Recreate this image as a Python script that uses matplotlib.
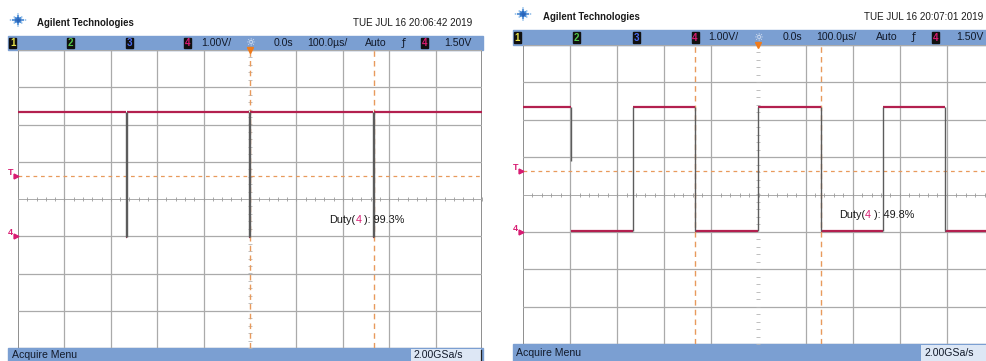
import matplotlib
matplotlib.use("Agg")
import matplotlib.pyplot as plt
from matplotlib.patches import Rectangle
import numpy as np

plt.rcParams['font.family'] = ['Liberation Sans Narrow', 'Liberation Sans', 'DejaVu Sans']

W, H = 987, 361

# scope settings shared by both captures
time_per_div = 100.0      # us
volts_per_div = 1.0
center_volts = 1.0
trigger_level = 1.63
header_items = ["1.00V/", "0.0s", "100.0\u00b5s/", "Auto", "1.50V"]

# capture 1: short low pulses
left_stamp = "TUE JUL 16 20:06:42 2019"
left_duty = "99.3%"
left_high = 3.33
left_low = -0.03
left_pulse_end = [-265, 0, 267]     # us, rising edge after each low pulse
left_pulse_width = 2.0
left_cursors = [0, 267]

# capture 2: square wave
right_stamp = "TUE JUL 16 20:07:01 2019"
right_duty = "49.8%"
right_high = 3.34
right_low = 0.02
right_falls = [-399, -134, 132, 397]
right_fall_bottom = [1.9, 0.02, 0.02, 0.02]
right_rises = [-267, 0, 265]
right_cursors = [-134, 132]

TRACE = '#b3204f'
EDGE = '#5c5c5c'
GRID = '#aaaaaa'
ORANGE = '#e89a5c'
MAGENTA = '#d81b72'
BAR = '#7b9fd2'

fig = plt.figure(figsize=(W / 100, H / 100), dpi=100)
bg = fig.add_axes([0, 0, 1, 1])
bg.set_xlim(0, W)
bg.set_ylim(H, 0)
bg.axis('off')


def draw_logo(cx, cy):
    for k in range(8):
        a = np.deg2rad(45 * k)
        arm = 1.0 if k % 2 == 0 else 0.7
        rs = np.array([2.5, 5.0, 7.5]) * arm
        bg.scatter(cx + rs * np.cos(a), cy + rs * np.sin(a) * 0.8,
                   s=[4, 2.5, 1.5], c=['#2f6fc4', '#4f8fd6', '#8cbbe8'],
                   linewidths=0, zorder=3)
    bg.scatter([cx], [cy], s=5, c='#2a64b8', linewidths=0, zorder=3)


def draw_frame(gx0, gx1, bar_top, bar_bot, grid_bot, stamp):
    dw = (gx1 - gx0) / 10.0
    X = lambda d: gx0 + d * dw
    x_end = min(gx1 + 1, W)
    # title row
    draw_logo(X(0), bar_top - 16)
    bg.text(X(0.42), bar_top - 13, "Agilent Technologies", fontsize=6.9,
            fontweight='bold', va='center', ha='left', color='#1a1a1a')
    bg.text(X(9.78), bar_top - 13, stamp, fontsize=7.1, va='center',
            ha='right', color='#1a1a1a')
    # status bar
    bg.add_patch(Rectangle((X(-0.22), bar_top), x_end - X(-0.22), bar_bot - bar_top,
                           color=BAR, zorder=1))
    ym = (bar_top + bar_bot) / 2
    for d, lab, col in [(-0.17, "1", '#e6e24a'), (1.08, "2", '#52c44a'),
                        (2.35, "3", '#4a6cf0'), (3.6, "4", MAGENTA), (8.7, "4", MAGENTA)]:
        bg.add_patch(Rectangle((X(d) - 1, bar_top + 2), 7, bar_bot - bar_top - 4,
                               color='#101010', zorder=2))
        bg.text(X(d) + 2.5, ym + 0.5, lab, fontsize=7, fontweight='bold', color=col,
                ha='center', va='center', zorder=3)
    txt = dict(fontsize=7.6, va='center', color='#121a2a', zorder=3)
    bg.text(X(3.94), ym, header_items[0], ha='left', **txt)
    bg.text(X(5.0), ym, "\u263c", ha='center', fontsize=8, va='center',
            color='#eef2fa', family='DejaVu Sans', zorder=3)
    bg.text(X(5.93), ym, header_items[1], ha='right', **txt)
    bg.text(X(7.09), ym, header_items[2], ha='right', **txt)
    bg.text(X(7.95), ym, header_items[3], ha='right', **txt)
    bg.text(X(8.3), ym, "\u0192", ha='center', fontsize=7.5, va='center',
            color='#121a2a', family='DejaVu Sans', zorder=3)
    bg.text(X(9.78), ym, header_items[4], ha='right', **txt)
    # bottom menu bar
    bg.add_patch(Rectangle((X(-0.22), grid_bot), x_end - X(-0.22), H - grid_bot,
                           color=BAR, zorder=1))
    yb = (grid_bot + H) / 2 + 0.5
    bg.text(X(-0.14), yb, "Acquire Menu", ha='left', **txt)
    bg.add_patch(Rectangle((X(8.46), grid_bot + 1), min(X(9.97), W) - X(8.46),
                           H - grid_bot - 1, facecolor='#dde7f5',
                           edgecolor='none', zorder=2))
    if X(9.97) < W:
        bg.plot([X(9.97), X(9.97)], [grid_bot + 2, H - 1], color='#202020', lw=0.9, zorder=3)
    bg.text(X(8.52), yb, "2.00GSa/s", ha='left', **txt)
    ax = fig.add_axes([gx0 / W, 1 - grid_bot / H, (gx1 - gx0) / W, (grid_bot - bar_bot) / H])
    return ax


def setup_grid(ax):
    ax.set_xlim(-5 * time_per_div, 5 * time_per_div)
    ax.set_ylim(center_volts - 4 * volts_per_div, center_volts + 4 * volts_per_div)
    ax.axis('off')
    for i in range(-5, 6):
        if i == 0:
            continue
        edge = abs(i) == 5
        ax.axvline(i * time_per_div, color='#707070' if edge else GRID,
                   lw=1.1 if edge else 0.9, zorder=1)
    for j in range(-4, 5):
        ax.axhline(center_volts + j * volts_per_div, color=GRID,
                   lw=0.7 if j == 0 else 0.9, zorder=1)
    # minor ticks along the centre axes
    tx = np.arange(-5, 5.01, 0.2) * time_per_div
    ax.plot(tx, np.full_like(tx, center_volts), ls='none', marker='|', ms=3,
            mew=0.6, color='#9a9a9a', zorder=1)
    ty = center_volts + np.arange(-4, 4.01, 0.2) * volts_per_div
    ax.plot(np.zeros_like(ty), ty, ls='none', marker='_', ms=2.2, mew=0.6,
            color='#b4b4b4', zorder=1)
    # trigger level, trigger position, ground reference
    ax.axhline(trigger_level, color=ORANGE, lw=0.9, ls=(0, (3, 3)), zorder=2)
    ax.plot([0], [1.0], transform=ax.get_xaxis_transform(), marker='v', ms=5,
            color='#f07c1c', clip_on=False, zorder=5)
    yt = ax.get_yaxis_transform()
    for level, lab in [(trigger_level, "T"), (0.0, "4")]:
        ax.plot([-0.004], [level], transform=yt, marker='>', ms=3.5, color=MAGENTA,
                clip_on=False, zorder=5)
        ax.annotate(lab, (0, level), xycoords=yt, xytext=(-5.5, 2.5),
                    textcoords='offset points', fontsize=6.5, fontweight='bold',
                    color=MAGENTA, ha='center', va='center', annotation_clip=False)


def draw_trace(ax, edges, high, low, bottoms=None):
    # edges: sorted list of (time, 'f'/'r'); trace starts at the level before the first edge
    t0, t1 = ax.get_xlim()
    level = high if edges[0][1] == 'f' else low
    starts = [t0] + [e[0] for e in edges]
    ends = [e[0] for e in edges] + [t1]
    levels = []
    for e in edges:
        levels.append(level)
        level = low if e[1] == 'f' else high
    levels.append(level)
    ax.hlines(levels, starts, ends, color=TRACE, lw=1.6, zorder=4)
    ets = [e[0] for e in edges]
    ymin = [low] * len(edges) if bottoms is None else bottoms
    ax.vlines(ets, ymin, high, color=EDGE, lw=1.0, zorder=4)


def draw_cursors(ax, times):
    for t in times:
        ax.axvline(t, color=ORANGE, lw=1.0, ls=(0, (4, 3)), zorder=3)


def duty_label(ax, value):
    t1 = ax.text(0.671, 0.42, "Duty(", transform=ax.transAxes, fontsize=7.8,
                 va='baseline', color='#1a1a1a', zorder=6)
    t2 = ax.annotate("4", xy=(1, 0), xycoords=t1, va='bottom', fontsize=7.8,
                     color=MAGENTA, zorder=6)
    ax.annotate(" ): " + value, xy=(1, 0), xycoords=t2, va='bottom', fontsize=7.8,
                color='#1a1a1a', zorder=6)


# left capture
axl = draw_frame(18, 482, 36, 50, 348, left_stamp)
setup_grid(axl)
draw_cursors(axl, left_cursors)
edges_l = []
for r in left_pulse_end:
    edges_l += [(r - left_pulse_width, 'f'), (r, 'r')]
draw_trace(axl, edges_l, left_high, left_low)
duty_label(axl, left_duty)

# right capture
axr = draw_frame(523, 994, 30, 45, 344, right_stamp)
setup_grid(axr)
draw_cursors(axr, right_cursors)
edges_r = sorted([(t, 'f') for t in right_falls] + [(t, 'r') for t in right_rises])
bottoms_r = []
fi = 0
for t, k in edges_r:
    if k == 'f':
        bottoms_r.append(right_fall_bottom[fi])
        fi += 1
    else:
        bottoms_r.append(right_low)
draw_trace(axr, edges_r, right_high, right_low, bottoms_r)
duty_label(axr, right_duty)

fig.savefig("out.png", dpi=100)
